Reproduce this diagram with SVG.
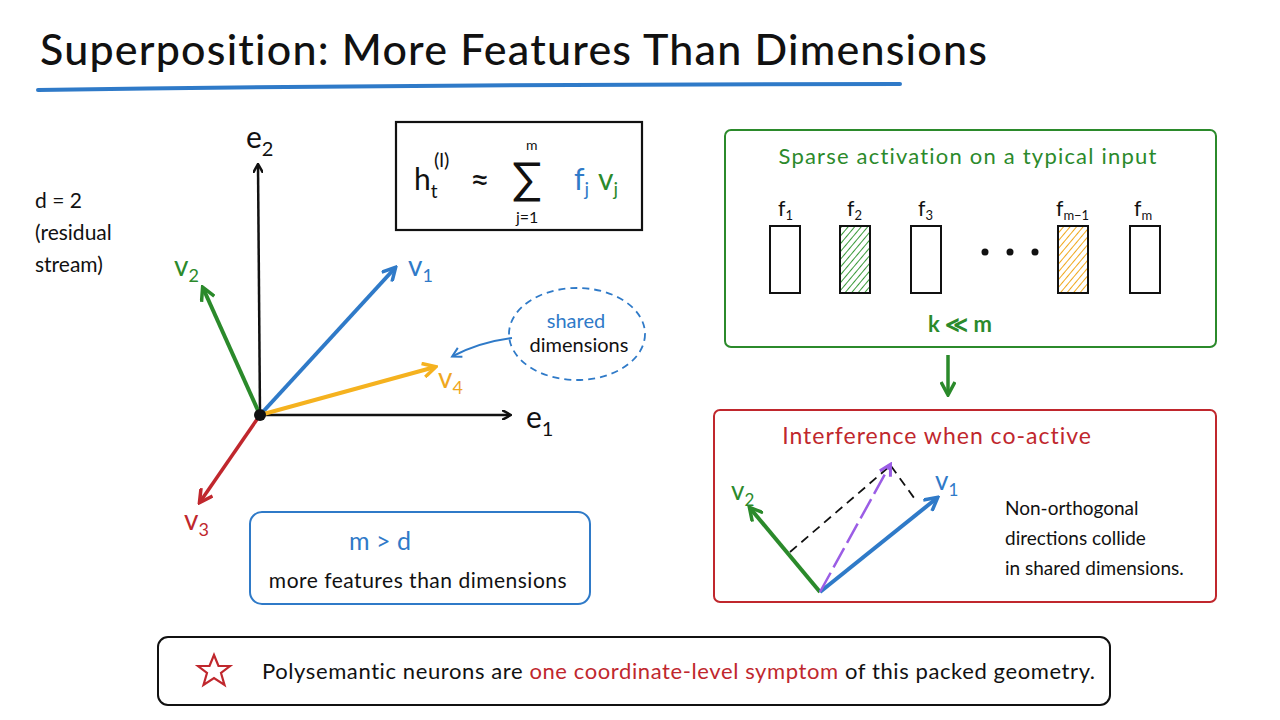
<svg xmlns="http://www.w3.org/2000/svg" width="1280" height="720" viewBox="0 0 1280 720">
<defs>
<style>
text{font-family:Lato,"Open Sans",sans-serif;fill:#111}
.t{font-size:21px}
.blue{fill:#2f7ac8}.green{fill:#2b8a2b}.red{fill:#c0272d}.orange{fill:#f0a81e}
</style>
<marker id="ak" markerWidth="10" markerHeight="10" refX="8" refY="5" orient="auto" markerUnits="userSpaceOnUse"><path d="M0,0 L9,5 L0,10" fill="none" stroke="#111" stroke-width="2.5"/></marker>
<marker id="ab" markerWidth="16" markerHeight="16" refX="13" refY="8" orient="auto" markerUnits="userSpaceOnUse"><path d="M1,1 L14,8 L1,15" fill="none" stroke="#2f7ac8" stroke-width="3.5"/></marker>
<marker id="ag" markerWidth="16" markerHeight="16" refX="13" refY="8" orient="auto" markerUnits="userSpaceOnUse"><path d="M1,1 L14,8 L1,15" fill="none" stroke="#2b8a2b" stroke-width="3.5"/></marker>
<marker id="ar" markerWidth="16" markerHeight="16" refX="13" refY="8" orient="auto" markerUnits="userSpaceOnUse"><path d="M1,1 L14,8 L1,15" fill="none" stroke="#c0272d" stroke-width="3.5"/></marker>
<marker id="ao" markerWidth="16" markerHeight="16" refX="13" refY="8" orient="auto" markerUnits="userSpaceOnUse"><path d="M1,1 L14,8 L1,15" fill="none" stroke="#f5b21f" stroke-width="3.5"/></marker>
<marker id="ap" markerWidth="14" markerHeight="14" refX="11" refY="7" orient="auto" markerUnits="userSpaceOnUse"><path d="M1,1 L12,7 L1,13" fill="none" stroke="#9b5de5" stroke-width="3"/></marker>
<marker id="abs" markerWidth="12" markerHeight="12" refX="9" refY="6" orient="auto" markerUnits="userSpaceOnUse"><path d="M1,1 L10,6 L1,11" fill="none" stroke="#2f7ac8" stroke-width="2"/></marker>
<pattern id="hg" width="5" height="5" patternUnits="userSpaceOnUse" patternTransform="rotate(40)"><line x1="0" y1="0" x2="0" y2="5" stroke="#3a9a3a" stroke-width="2"/></pattern>
<pattern id="ho" width="5" height="5" patternUnits="userSpaceOnUse" patternTransform="rotate(40)"><line x1="0" y1="0" x2="0" y2="5" stroke="#f0a81e" stroke-width="2"/></pattern>
</defs>
<rect width="1280" height="720" fill="#fff"/>
<g id="title">
<text x="40" y="65" font-size="43" font-weight="500" letter-spacing="1.2">Superposition: More Features Than Dimensions</text>
<path d="M38,90 Q450,84 900,84" stroke="#2f7ac8" stroke-width="4" fill="none" stroke-linecap="round"/>
</g>
<g id="dlabel">
<text x="35" y="208" class="t">d = 2</text>
<text x="35" y="240" class="t">(residual</text>
<text x="35" y="272" class="t">stream)</text>
</g>
<g id="connectors">
<line x1="260" y1="415" x2="510" y2="415" stroke="#111" stroke-width="2.5" marker-end="url(#ak)"/>
<line x1="260" y1="415" x2="258" y2="165" stroke="#111" stroke-width="2.5" marker-end="url(#ak)"/>
<line x1="260" y1="415" x2="395" y2="268" stroke="#2f7ac8" stroke-width="4" marker-end="url(#ab)"/>
<line x1="260" y1="415" x2="203" y2="288" stroke="#2b8a2b" stroke-width="4" marker-end="url(#ag)"/>
<line x1="260" y1="415" x2="200" y2="502" stroke="#c0272d" stroke-width="3.5" marker-end="url(#ar)"/>
<line x1="260" y1="415" x2="435" y2="367" stroke="#f5b21f" stroke-width="4" marker-end="url(#ao)"/>
<path d="M512,338 Q480,342 453,356" stroke="#2f7ac8" stroke-width="2" fill="none" marker-end="url(#abs)"/>
<line x1="948" y1="355" x2="948" y2="394" stroke="#2b8a2b" stroke-width="3.5" marker-end="url(#ag)"/>
<line x1="790" y1="552" x2="890" y2="466" stroke="#111" stroke-width="1.8" stroke-dasharray="9,6"/>
<line x1="891" y1="466" x2="917" y2="502" stroke="#111" stroke-width="1.8" stroke-dasharray="9,6"/>
<line x1="820" y1="592" x2="750" y2="508" stroke="#2b8a2b" stroke-width="4" marker-end="url(#ag)"/>
<line x1="820" y1="592" x2="937" y2="498" stroke="#2f7ac8" stroke-width="4" marker-end="url(#ab)"/>
<line x1="820" y1="592" x2="890" y2="465" stroke="#9b5de5" stroke-width="2.5" stroke-dasharray="22,6" marker-end="url(#ap)"/>
</g>
<g id="axes-labels">
<circle cx="260" cy="415" r="6" fill="#111"/>
<text x="246" y="148" font-size="30">e<tspan font-size="20" dy="8">2</tspan></text>
<text x="526" y="428" font-size="30">e<tspan font-size="20" dy="8">1</tspan></text>
<text x="408" y="276" font-size="28" class="blue">v<tspan font-size="18" dy="6">1</tspan></text>
<text x="174" y="276" font-size="28" class="green">v<tspan font-size="18" dy="6">2</tspan></text>
<text x="184" y="530" font-size="28" class="red">v<tspan font-size="18" dy="6">3</tspan></text>
<text x="438" y="388" font-size="28" class="orange">v<tspan font-size="18" dy="6">4</tspan></text>
</g>
<g id="shared">
<ellipse cx="577" cy="334" rx="68" ry="46" fill="none" stroke="#2f7ac8" stroke-width="1.8" stroke-dasharray="7,5"/>
<text x="576" y="328" font-size="20" text-anchor="middle" class="blue">shared</text>
<text x="579" y="352" font-size="20" text-anchor="middle">dimensions</text>
</g>
<g id="formula">
<rect x="396" y="122" width="246" height="108" fill="none" stroke="#111" stroke-width="2.2"/>
<text x="414" y="190" font-size="30">h<tspan font-size="19" dy="8">t</tspan></text>
<text x="434" y="167" font-size="20">(l)</text>
<text x="470" y="192" font-size="34">≈</text>
<text x="512" y="194" font-size="44">∑</text>
<text x="526" y="150" font-size="14">m</text>
<text x="516" y="223" font-size="16">j=1</text>
<text x="574" y="190" font-size="30" class="blue">f<tspan font-size="19" dy="6">j</tspan></text>
<text x="598" y="190" font-size="30" class="green">v<tspan font-size="19" dy="6">j</tspan></text>
</g>
<g id="mgtd">
<rect x="250" y="512" width="340" height="92" rx="12" fill="none" stroke="#2f7ac8" stroke-width="2"/>
<text x="380" y="550" font-size="25" text-anchor="middle" class="blue">m &gt; d</text>
<text x="418" y="588" font-size="21" text-anchor="middle" letter-spacing="0.5">more features than dimensions</text>
</g>
<g id="sparse">
<rect x="725" y="130" width="491" height="217" rx="6" fill="none" stroke="#2b8a2b" stroke-width="2"/>
<text x="968" y="164" font-size="22" text-anchor="middle" class="green" letter-spacing="1.2">Sparse activation on a typical input</text>
<g fill="none" stroke="#111" stroke-width="2">
<rect x="770" y="226" width="30" height="67"/>
<rect x="840" y="226" width="30" height="67" fill="url(#hg)"/>
<rect x="911" y="226" width="30" height="67"/>
<rect x="1058" y="226" width="30" height="67" fill="url(#ho)"/>
<rect x="1130" y="226" width="30" height="67"/>
</g>
<text x="778" y="216" font-size="21">f<tspan font-size="13" dy="4">1</tspan></text>
<text x="847" y="216" font-size="21">f<tspan font-size="13" dy="4">2</tspan></text>
<text x="918" y="216" font-size="21">f<tspan font-size="13" dy="4">3</tspan></text>
<text x="1056" y="216" font-size="21">f<tspan font-size="13" dy="4">m−1</tspan></text>
<text x="1134" y="216" font-size="21">f<tspan font-size="13" dy="4">m</tspan></text>
<circle cx="985" cy="252" r="3.5" fill="#111"/><circle cx="1010" cy="252" r="3.5" fill="#111"/><circle cx="1035" cy="252" r="3.5" fill="#111"/>
<text x="960" y="332" font-size="22" text-anchor="middle" class="green" font-weight="bold">k ≪ m</text>
</g>
<g id="interference">
<rect x="714" y="410" width="502" height="192" rx="6" fill="none" stroke="#c0272d" stroke-width="2"/>
<text x="937" y="444" font-size="23" text-anchor="middle" class="red" letter-spacing="1">Interference when co-active</text>
<text x="731" y="500" font-size="26" class="green">v<tspan font-size="17" dy="6">2</tspan></text>
<text x="935" y="490" font-size="26" class="blue">v<tspan font-size="17" dy="6">1</tspan></text>
<text x="1005" y="515" font-size="19">Non-orthogonal</text>
<text x="1005" y="545" font-size="19">directions collide</text>
<text x="1005" y="575" font-size="19">in shared dimensions.</text>
</g>
<g id="footer">
<rect x="158" y="637" width="952" height="68" rx="10" fill="none" stroke="#111" stroke-width="2"/>
<polygon points="214,655 218.5,666 230,666 221,673 224.5,685 214,678 203.5,685 207,673 198,666 209.5,666" fill="none" stroke="#c0272d" stroke-width="2.2"/>
<text x="262" y="679" font-size="22" letter-spacing="0.6">Polysemantic neurons are <tspan class="red">one coordinate-level symptom</tspan> of this packed geometry.</text>
</g>
</svg>
